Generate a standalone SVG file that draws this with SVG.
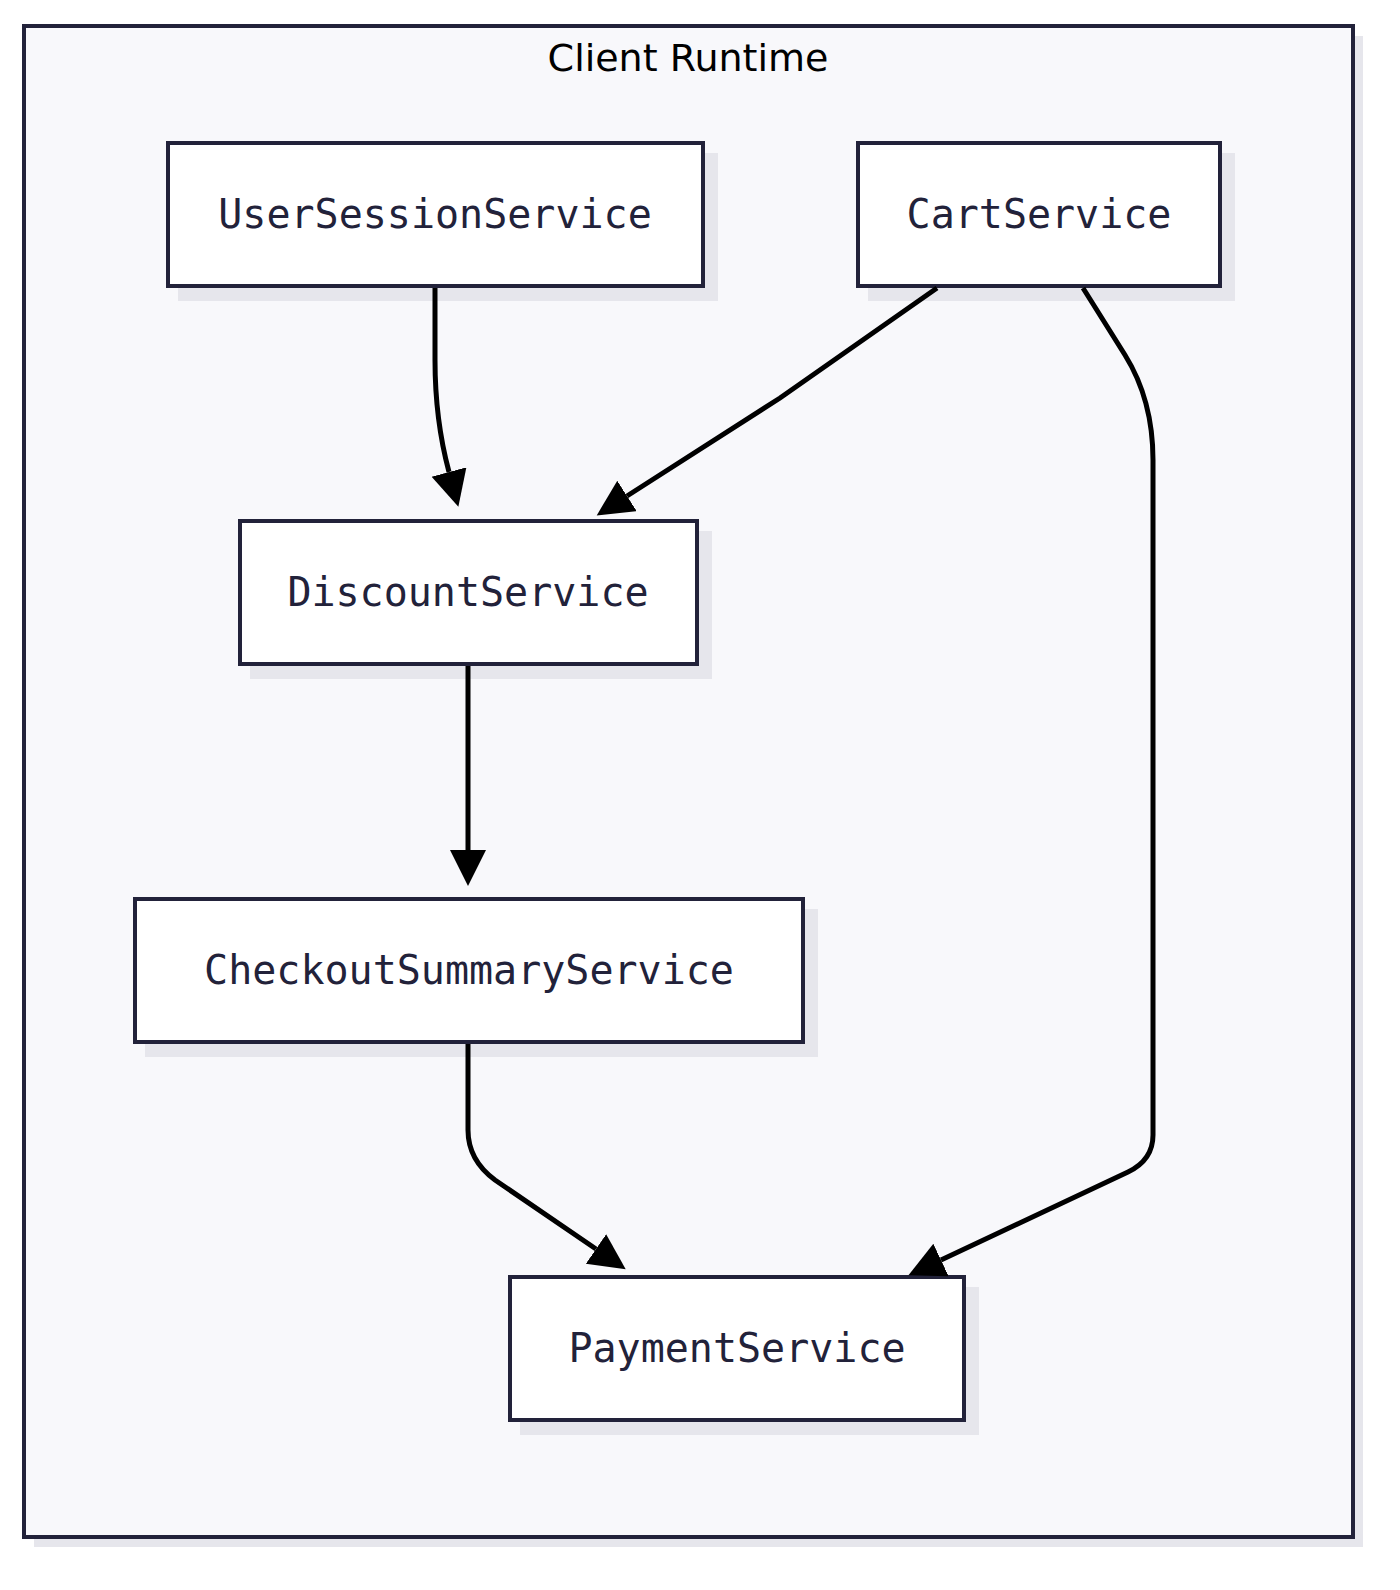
<svg xmlns="http://www.w3.org/2000/svg" width="1400" height="1590" viewBox="0 0 1400 1590">
<style>
.sh{fill:#e6e6ec}
.nd{fill:#ffffff;stroke:#22223a;stroke-width:4}
.lb{font-family:"DejaVu Sans Mono",monospace;font-size:40px;fill:#22223a;text-anchor:middle;dominant-baseline:central}
.ed{fill:none;stroke:#000;stroke-width:5}
</style>
<defs>
<marker id="ah" markerUnits="userSpaceOnUse" markerWidth="40" markerHeight="40" refX="0" refY="18" orient="auto" viewBox="0 0 40 40">
<path d="M0,0 L36,18 L0,36 z" fill="#000"/>
</marker>
</defs>
<g id="container">
<rect x="34" y="36" width="1329" height="1511" class="sh"/>
<rect x="24" y="26" width="1329" height="1511" fill="#f8f8fb" stroke="#22223a" stroke-width="4"/>
<text x="688" y="58" font-family="DejaVu Sans,sans-serif" font-size="38" fill="#000" text-anchor="middle" dominant-baseline="central">Client Runtime</text>
</g>
<g id="UserSessionService"><rect x="178" y="153" width="540" height="148" class="sh"/><rect x="168" y="143" width="535" height="143" class="nd"/><text x="435" y="214" class="lb">UserSessionService</text></g>
<g id="CartService"><rect x="868" y="153" width="367" height="148" class="sh"/><rect x="858" y="143" width="362" height="143" class="nd"/><text x="1039" y="214" class="lb">CartService</text></g>
<g id="DiscountService"><rect x="250" y="531" width="462" height="148" class="sh"/><rect x="240" y="521" width="457" height="143" class="nd"/><text x="468" y="592" class="lb">DiscountService</text></g>
<g id="CheckoutSummaryService"><rect x="145" y="909" width="673" height="148" class="sh"/><rect x="135" y="899" width="668" height="143" class="nd"/><text x="469" y="970" class="lb">CheckoutSummaryService</text></g>
<g id="PaymentService"><rect x="520" y="1287" width="459" height="148" class="sh"/><rect x="510" y="1277" width="454" height="143" class="nd"/><text x="737" y="1348" class="lb">PaymentService</text></g>
<g id="connectors">
<path class="ed" marker-end="url(#ah)" d="M435,288 L435,360 Q435,420 449,472"/>
<path class="ed" marker-end="url(#ah)" d="M937,288 L780,398 L627,496"/>
<path class="ed" marker-end="url(#ah)" d="M1083,288 L1125,355 Q1153,400 1153,460 L1153,1135 Q1153,1160 1128,1172 L941,1260"/>
<path class="ed" marker-end="url(#ah)" d="M468,666 L468,850"/>
<path class="ed" marker-end="url(#ah)" d="M468,1044 L468,1130 Q468,1160 495,1180 L596,1249"/>
</g>
</svg>
